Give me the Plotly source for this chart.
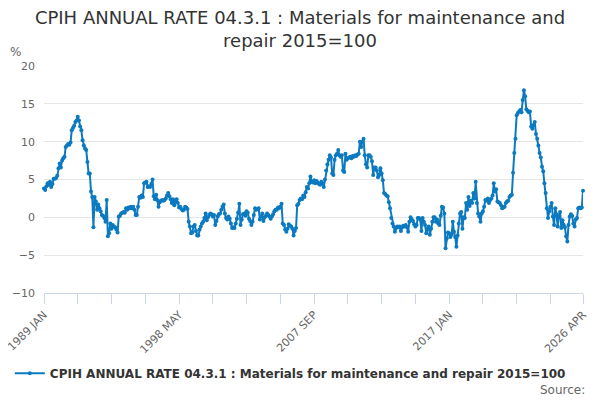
import plotly.graph_objects as go

start_year = 1989
n_months = 448
month_names = ["JAN", "FEB", "MAR", "APR", "MAY", "JUN", "JUL", "AUG", "SEP", "OCT", "NOV", "DEC"]
months = [f"{start_year + k // 12} {month_names[k % 12]}" for k in range(n_months)]

values = [
    # 1989
    3.8, 3.6, 4.1, 4.5, 4.3, 4.7, 4.0, 4.4, 5.1, 5.1, 5.2, 5.5,
    # 1990
    6.5, 7.1, 6.6, 7.5, 7.8, 8.0, 9.3, 9.5, 9.7, 9.6, 9.9, 11.5,
    # 1991
    11.8, 12.1, 12.6, 12.8, 13.3, 12.8, 12.0, 11.5, 10.2, 9.5, 9.1, 8.9,
    # 1992
    7.3, 5.8, 5.8, 3.4, 2.7, -1.3, 2.7, 2.1, 1.0, 1.7, 1.2, 0.8,
    # 1993
    0.3, 0.2, -0.1, -0.6, 2.3, -2.5, -2.1, -0.8, -1.5, -1.0, -1.2, -1.3,
    # 1994
    -1.6, -2.0, 0.1, 0.2, 0.5, 0.6, 0.7, 0.6, 1.2, 1.0, 1.3, 1.2,
    # 1995
    1.4, 1.2, 1.4, 1.0, 0.3, 0.3, 1.4, 2.7, 2.6, 2.9, 2.7, 4.5,
    # 1996
    4.6, 4.7, 4.0, 4.1, 4.0, 4.4, 5.0, 2.8, 2.4, 3.0, 2.3, 1.4,
    # 1997
    2.0, 2.2, 2.3, 2.2, 2.3, 2.5, 2.9, 3.2, 2.8, 2.4, 1.9, 2.4,
    # 1998
    1.6, 2.1, 2.4, 1.9, 1.3, 1.4, 1.1, 0.9, 1.0, 1.4, 1.3, 1.1,
    # 1999
    -0.6, -1.2, -2.1, -2.0, -1.2, -1.0, -1.8, -2.4, -2.4, -1.6, -1.2, -0.8,
    # 2000
    -0.6, -0.1, 0.5, -0.4, 0.0, 0.3, 0.5, 0.4, 0.1, 0.3, -1.0, -0.5,
    # 2001
    0.1, 0.4, 0.5, 1.0, 1.4, 1.7, 0.5, -0.1, -0.3, 0.1, -0.2, -0.8,
    # 2002
    -1.4, -1.3, -1.4, -0.8, -0.2, 0.6, 1.8, -1.0, -0.3, 0.4, 0.5, 0.2,
    # 2003
    0.8, 0.6, -0.2, -0.5, -1.0, -0.6, 0.3, 1.2, 1.0, 1.1, 1.2, -0.3,
    # 2004
    0.1, 0.5, -0.5, 0.0, 0.2, 0.5, 0.3, 0.1, -0.2, 0.1, 0.4, 0.8,
    # 2005
    1.0, 1.0, 1.3, 1.2, 1.4, 1.8, -0.8, -1.0, -1.6, -1.9, -1.5, -0.9,
    # 2006
    -1.1, -1.2, -1.5, -2.4, -1.8, -1.4, 1.6, 1.8, 2.3, 2.5, 2.4, 2.9,
    # 2007
    2.7, 3.3, 4.0, 3.8, 4.5, 5.4, 4.7, 4.6, 4.9, 4.5, 4.8, 4.6,
    # 2008
    4.4, 4.3, 4.7, 4.5, 4.0, 5.0, 6.2, 7.0, 7.6, 8.2, 7.9, 5.8,
    # 2009
    5.6, 7.6, 8.2, 8.4, 8.9, 8.2, 8.0, 8.2, 6.2, 6.0, 8.4, 7.6,
    # 2010
    7.8, 7.9, 8.0, 7.8, 8.1, 8.0, 8.2, 8.1, 8.3, 8.4, 10.0, 9.3,
    # 2011
    10.0, 10.4, 8.2, 7.0, 6.6, 8.2, 8.2, 8.0, 7.4, 5.6, 6.6, 6.6,
    # 2012
    6.2, 5.3, 5.6, 6.5, 5.8, 4.9, 3.2, 3.1, 2.9, 2.8, 2.0, 1.2,
    # 2013
    -0.1, -0.8, -1.2, -1.9, -1.4, -1.2, -1.3, -1.2, -1.8, -1.3, -1.1, -1.2,
    # 2014
    -1.0, -1.3, -1.9, -0.6, 0.0, -0.3, -0.5, -0.9, -1.2, -1.0, -0.1, -0.1,
    # 2015
    -0.3, -1.8, -0.1, -0.6, -1.0, -2.1, -1.5, -1.2, -2.3, -1.5, -0.6, 0.0,
    # 2016
    0.0, -0.6, -0.3, -0.8, -1.0, 0.2, 1.4, 1.3, 0.5, -4.1, -2.8, -2.0,
    # 2017
    -2.1, -2.6, -2.3, -0.6, -1.9, -2.6, -3.9, -2.4, -0.8, 0.5, 0.7, -1.5,
    # 2018
    0.0, -0.1, 1.9, 1.0, 2.7, 1.5, 2.2, 1.9, 3.2, 2.5, 4.7, 1.9,
    # 2019
    0.5, 0.1, -0.6, 0.5, 0.8, 1.4, 2.3, 2.2, 2.5, 1.9, 2.3, 2.5,
    # 2020
    2.9, 4.5, 3.4, 3.7, 2.1, 2.0, 1.9, 1.6, 1.2, 1.3, 1.4, 1.9,
    # 2021
    2.1, 2.2, 2.7, 2.9, 3.0, 5.9, 8.5, 10.4, 13.5, 13.8, 14.0, 14.2,
    # 2022
    13.9, 15.5, 16.8, 16.0, 14.3, 14.1, 13.9, 14.0, 12.0, 11.7, 12.2, 12.6,
    # 2023
    11.0, 10.4, 9.5, 8.5, 7.9, 6.7, 6.1, 4.5, 3.2, 1.2, -0.1, 0.8,
    # 2024
    1.4, 1.9, 0.1, -1.0, 1.2, 0.4, -1.2, 0.2, 0.7, -1.4, -0.4, -1.0,
    # 2025
    -1.3, -2.5, -3.2, -1.0, 0.1, 0.4, 0.2, -0.8, -1.2, -0.3, -0.1, 1.2,
    # 2026
    1.3, 1.2, 1.3, 3.5,
]

series_name = "CPIH ANNUAL RATE 04.3.1 : Materials for maintenance and repair 2015=100"
title_text = "CPIH ANNUAL RATE 04.3.1 : Materials for maintenance and<br>repair 2015=100"
tick_step = 28
label_step = 112
y_ticks = [-10, -5, 0, 5, 10, 15, 20]

tick_idx = list(range(0, n_months - 1, tick_step)) + [n_months - 1]
tick_vals = [months[i] for i in tick_idx]
tick_text = [months[i] if (i % label_step == 0 or i == n_months - 1) else "" for i in tick_idx]

FONT = "DejaVu Sans"
blue = "#0b7ac0"

# page has an 8px body margin, so the figure is 8px smaller and shifted
W, H = 592, 392

fig = go.Figure()
fig.add_trace(go.Scatter(
    x=months, y=values, mode="lines+markers", name=series_name,
    line=dict(color=blue, width=2),
    marker=dict(color=blue, size=4),
    cliponaxis=False,
))

fig.update_layout(
    width=W, height=H,
    margin=dict(l=35.5, r=16.5, t=58, b=107.3, autoexpand=False),
    paper_bgcolor="white", plot_bgcolor="white",
    font=dict(family=FONT, color="#666666", size=11),
    title=dict(text=title_text, x=292 / W, xref="container", xanchor="center",
               y=1 - 16 / H, yanchor="middle",
               font=dict(family=FONT, size=18, color="#333333")),
    showlegend=True,
    legend=dict(orientation="h", x=0.457, xanchor="center", y=-0.354, yanchor="middle",
                font=dict(family=FONT, size=12, color="#333333", weight="bold")),
    xaxis=dict(
        type="category", range=[0, n_months - 1], automargin=False,
        tickmode="array", tickvals=tick_vals, ticktext=tick_text,
        tickangle=-45, ticks="outside", ticklen=10, tickcolor="#ccd6eb",
        showline=True, linecolor="#ccd6eb", linewidth=1,
        showgrid=False, tickfont=dict(size=11, color="#666666"),
    ),
    yaxis=dict(
        range=[-10, 20], tickmode="array", tickvals=y_ticks, automargin=False,
        showgrid=True, gridcolor="#e6e6e6", zeroline=False,
        ticks="", tickfont=dict(size=11, color="#666666"), ticklabelstandoff=8,
    ),
    annotations=[
        dict(text="%", xref="paper", yref="paper", x=-0.053, y=1.062,
             showarrow=False, font=dict(size=12, color="#666666"), xanchor="center", yanchor="middle"),
        dict(text="Source:", xref="paper", yref="paper", x=1.0083, y=-0.429,
             showarrow=False, font=dict(size=12, color="#666666"), xanchor="right", yanchor="middle"),
    ],
)

fig.write_html("out.html")
